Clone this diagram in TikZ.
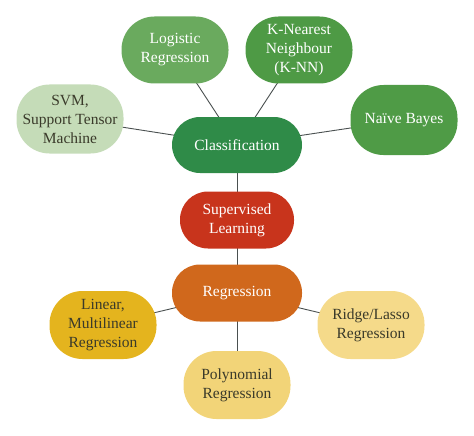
\documentclass[tikz,border=0pt]{standalone}
\usepackage{fontspec}
\setmainfont{Liberation Serif}
\usepackage{tikz}
\usetikzlibrary{positioning}
\usetikzlibrary{backgrounds}
\definecolor{clsgreen}{HTML}{2F8B48}
\definecolor{midgreen}{HTML}{4E9A45}
\definecolor{lightgreen}{HTML}{6AAA5E}
\definecolor{palegreen}{HTML}{C5DCB8}
\definecolor{suplred}{HTML}{C8341C}
\definecolor{regorange}{HTML}{D0681C}
\definecolor{linyellow}{HTML}{E4B41E}
\definecolor{paleyellow}{HTML}{F5DA8A}
\definecolor{polyyellow}{HTML}{F2D478}
\definecolor{darktext}{HTML}{3A3A2A}
\definecolor{linkgray}{HTML}{4A5050}

\begin{document}
\begin{tikzpicture}[x=1pt,y=-1pt,
  bubble/.style={rounded corners=33pt,minimum width=107pt,minimum height=68pt,inner sep=1pt,align=center,font=\fontsize{15.5}{19}\selectfont,text=white},
  hub/.style={bubble,rounded corners=28pt,minimum width=130pt,minimum height=56pt},
  paletext/.style={text=darktext},
  link/.style={draw=linkgray,line width=0.9pt}]
\useasboundingbox (0,0) rectangle (474,436);
% classification side
\node[hub,fill=clsgreen] (clas) at (237,145) {Classification};
\node[bubble,fill=lightgreen,minimum height=67pt] (logi) at (175,50) {Logistic\\Regression};
\node[bubble,fill=midgreen,minimum height=67pt] (knn) at (299,50) {K-Nearest\\Neighbour\\(K-NN)};
\node[bubble,fill=palegreen,paletext,minimum height=69pt] (svm) at (70,119) {SVM,\\Support Tensor\\Machine};
\node[bubble,fill=midgreen!95!lightgreen,minimum height=70pt] (bayes) at (404,120) {Naïve Bayes};
% centre
\node[hub,fill=suplred,minimum width=114pt,minimum height=57pt] (supl) at (237,220) {Supervised\\Learning};
% regression side
\node[hub,fill=regorange,minimum height=57pt] (regr) at (237,293) {Regression};
\node[bubble,fill=linyellow,paletext] (lin) at (103,325) {Linear,\\Multilinear\\Regression};
\node[bubble,fill=paleyellow,paletext] (ridge) at (371,325) {Ridge/Lasso\\Regression};
\node[bubble,fill=polyyellow,paletext] (poly) at (237,385) {Polynomial\\Regression};
\begin{scope}[on background layer]
\foreach \a in {logi,knn,svm,bayes,supl}
\path[link] (clas.center) -- (\a.center);
\foreach \a in {supl,lin,ridge,poly}
\path[link] (regr.center) -- (\a.center);
\end{scope}
\end{tikzpicture}
\end{document}
